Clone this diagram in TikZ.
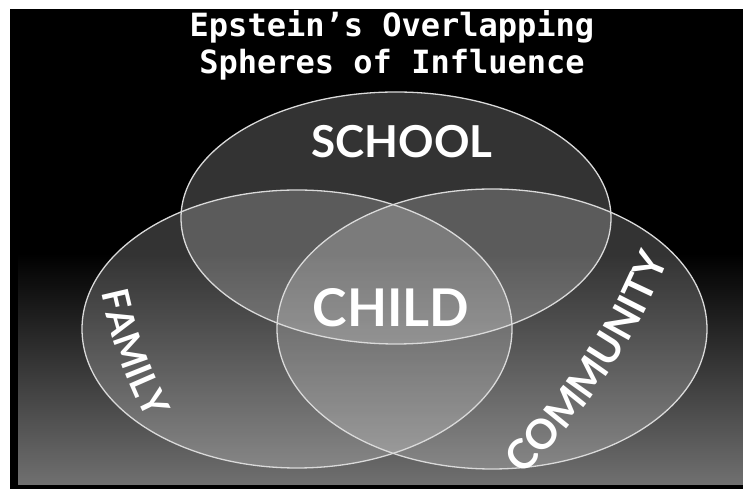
\documentclass[tikz,border=0pt]{standalone}
\usepackage{fontspec}
\newfontfamily\titlefont{DejaVu Sans Mono}
\newfontfamily\labelfont{Lato}
\usetikzlibrary{decorations.text}
\definecolor{bgbottom}{HTML}{707070}
\definecolor{rim}{HTML}{DADADA}
\begin{document}
\begin{tikzpicture}[x=1pt,y=1pt,
  spherefill/.style={fill=white, fill opacity=0.2},
  sphererim/.style={draw=rim, line width=1.3pt},
  titletext/.style={text=white, font=\titlefont\bfseries\fontsize{32}{36}\selectfont, anchor=base},
  bigtext/.style={text=white, font=\labelfont\bfseries\fontsize{#1}{#1}\selectfont}]
\useasboundingbox (0,0) rectangle (743,489);
% frame and background
\fill[white] (0,0) rectangle (743,489);
\fill[black] (10,0) rectangle (743,480);
\shade[top color=black, bottom color=bgbottom] (18,4) rectangle (743,236);
% centres
\coordinate (cs) at (396,271);
\coordinate (cf) at (297,160);
\coordinate (cc) at (492,160);
% fills
\path[spherefill] (cs) ellipse [x radius=215, y radius=126];
\path[spherefill] (cf) ellipse [x radius=215, y radius=139];
\path[spherefill] (cc) ellipse [x radius=215, y radius=140];
% rims
\path[sphererim] (cs) ellipse [x radius=215, y radius=126];
\path[sphererim] (cf) ellipse [x radius=215, y radius=139];
\path[sphererim] (cc) ellipse [x radius=215, y radius=140];
% title
\node[titletext] (t1) at (392,452) {Epstein’s Overlapping};
\node[titletext] (t2) at (392,415) {Spheres of Influence};
% SCHOOL and CHILD
\node[bigtext=44] (school) at (402,347) {SCHOOL};
\node[bigtext=52] (child) at (391,181) {CHILD};
% FAMILY along a gentle arc
\coordinate (famc) at (590.4,299.3);
\path[decorate, decoration={text along path, text align=center, text color=white,
  text={|\labelfont\bfseries\fontsize{37}{37}\selectfont|FAMILY}}]
  ([shift={(188.2:500)}]famc) arc[start angle=188.2, end angle=211.2, radius=500];
% COMMUNITY along a gentle arc
\coordinate (comc) at (109.9,449.7);
\path[decorate, decoration={text along path, text align=center, text color=white,
  text={|\labelfont\bfseries\fontsize{41}{41}\selectfont|COMMUNITY}}]
  ([shift={(-48.3:600)}]comc) arc[start angle=-48.3, end angle=-19.7, radius=600];
\end{tikzpicture}
\end{document}
